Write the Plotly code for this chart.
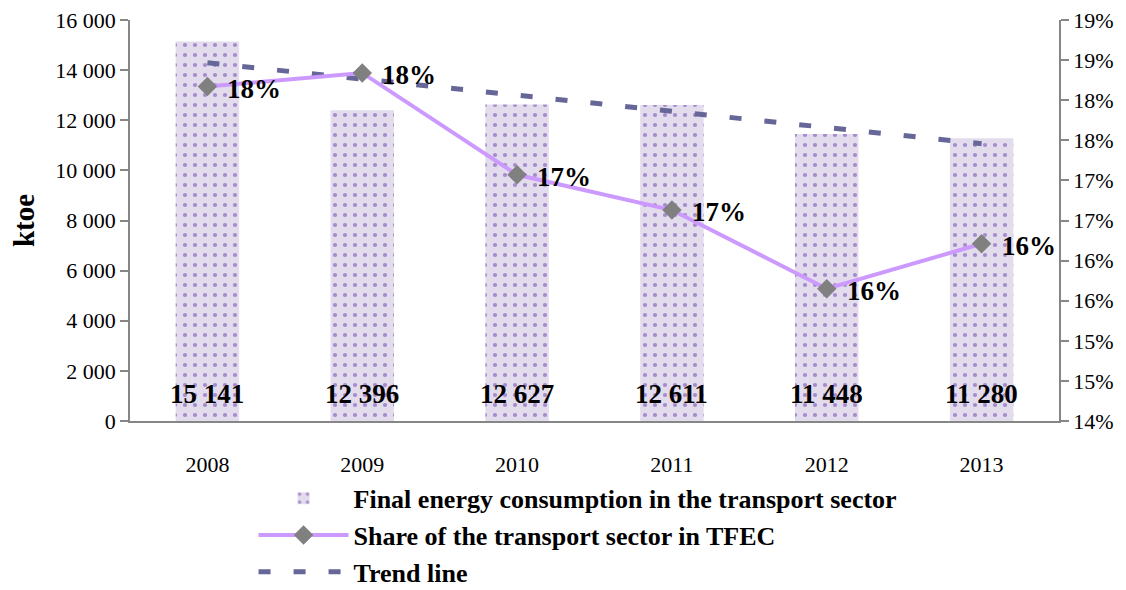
import plotly.graph_objects as go

years = ["2008", "2009", "2010", "2011", "2012", "2013"]
consumption = [15141, 12396, 12627, 12611, 11448, 11280]
consumption_labels = ["15 141", "12 396", "12 627", "12 611", "11 448", "11 280"]
share_pct = [18.17, 18.34, 17.07, 16.63, 15.65, 16.21]
share_labels = ["18%", "18%", "17%", "17%", "16%", "16%"]
trend = [14290, 13650, 13000, 12340, 11700, 11065]

left_ticks = [0, 2000, 4000, 6000, 8000, 10000, 12000, 14000, 16000]
left_ticktext = ["0", "2 000", "4 000", "6 000", "8 000", "10 000", "12 000", "14 000", "16 000"]
right_ticks = [14, 14.5, 15, 15.5, 16, 16.5, 17, 17.5, 18, 18.5, 19]
right_ticktext = ["14%", "15%", "15%", "16%", "16%", "17%", "17%", "18%", "18%", "19%", "19%"]

FONT = "Liberation Serif"
AXIS_COLOR = "#868686"

fig = go.Figure()

fig.add_trace(go.Bar(
    x=years, y=consumption, name="Final energy consumption in the transport sector",
    width=0.41,
    marker=dict(color="#e3dced", line=dict(width=0),
                pattern=dict(shape=".", bgcolor="#e3dced", fgcolor="#a48bcc",
                             fgopacity=1, size=10, solidity=0.14)),
    yaxis="y",
))

fig.add_trace(go.Scatter(
    x=years, y=share_pct, name="Share of the transport sector in TFEC",
    mode="lines+markers",
    line=dict(color="#cc99ff", width=4),
    marker=dict(symbol="diamond", size=15, color="#808080", line=dict(width=0)),
    yaxis="y2", cliponaxis=False,
))

fig.add_trace(go.Scatter(
    x=years, y=trend, name="Trend line", mode="lines",
    line=dict(color="#666699", width=5, dash="12px,23px"),
    yaxis="y",
))

label_font = dict(family=FONT, size=27, color="black", weight="bold")
annotations = []
# category positions: index of each year on the category axis
for i, lab in enumerate(consumption_labels):
    annotations.append(dict(x=i, y=0, xref="x", yref="y", text=lab, showarrow=False,
                            xanchor="center", yanchor="bottom", yshift=10, font=label_font))
for i, (val, lab) in enumerate(zip(share_pct, share_labels)):
    annotations.append(dict(x=i, y=val, xref="x", yref="y2", text=lab, showarrow=False,
                            xanchor="left", yanchor="middle", xshift=18, yshift=-2, font=label_font))

fig.update_layout(
    width=1118, height=582,
    margin=dict(l=122, r=67, t=12, b=169, autoexpand=False),
    plot_bgcolor="white", paper_bgcolor="white",
    font=dict(family=FONT, size=22, color="black"),
    showlegend=True,
    annotations=annotations,
    xaxis=dict(
        type="category", categoryorder="array", categoryarray=years,
        range=[-0.5, len(years) - 0.5],
        showline=True, linecolor=AXIS_COLOR, linewidth=1.5,
        ticks="", showgrid=False, ticklabelstandoff=23,
        tickfont=dict(family=FONT, size=22),
    ),
    yaxis=dict(
        range=[0, 16000], tickvals=left_ticks, ticktext=left_ticktext,
        showline=True, linecolor=AXIS_COLOR, linewidth=1.5,
        ticks="outside", ticklen=8, tickcolor=AXIS_COLOR, tickwidth=1.5,
        showgrid=False, zeroline=False, ticklabeloverflow="allow",
        tickfont=dict(family=FONT, size=22),
        title=dict(text="ktoe", font=dict(family=FONT, size=29, weight="bold"), standoff=20),
    ),
    yaxis2=dict(
        range=[14, 19], tickvals=right_ticks, ticktext=right_ticktext,
        overlaying="y", side="right",
        showline=True, linecolor=AXIS_COLOR, linewidth=1.5,
        ticks="outside", ticklen=8, tickcolor=AXIS_COLOR, tickwidth=1.5,
        showgrid=False, zeroline=False, ticklabeloverflow="allow",
        tickfont=dict(family=FONT, size=22),
    ),
    legend=dict(
        orientation="v", x=0.133, xanchor="left",
        yref="container", y=0.198, yanchor="top",
        font=dict(family=FONT, size=26, color="black", weight="bold"),
        itemwidth=90, tracegroupgap=0, bgcolor="rgba(0,0,0,0)",
        traceorder="normal",
    ),
)

fig.write_html("out.html")
